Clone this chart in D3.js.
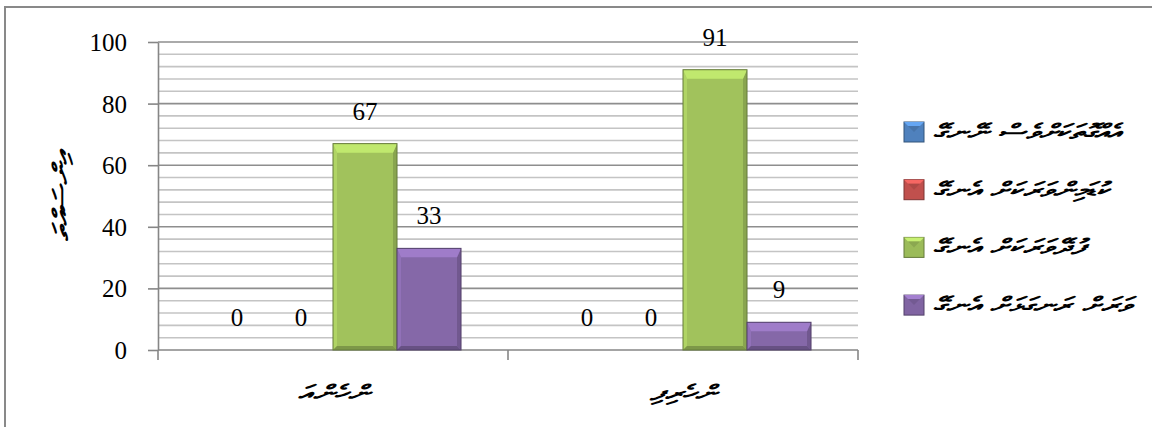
<!DOCTYPE html>
<html>
<head>
<meta charset="utf-8">
<script src="https://cdn.jsdelivr.net/npm/d3@7"></script>
<style>
  body { margin: 0; background: #fff; }
  svg { display: block; }
</style>
</head>
<body>
<div id="chart"></div>
<script>
// data
const groups = ["އަންހެން", "ފިރިހެން"];
const seriesNames = [
  "އެއްގޮތަކަށްވެސް ނޭނގޭ",
  "ކުޑަމިންވަރަކަށް އެނގޭ",
  "ފުދޭވަރަކަށް އެނގޭ",
  "ވަރަށް ރަނގަޅަށް އެނގޭ"
];
const seriesColors = ["#4f81bd", "#c0504d", "#9bbb59", "#8064a2"];
const knowNothing = [0, 0];
const knowLittle = [0, 0];
const knowEnough = [67, 91];
const knowWell = [33, 9];
const yTicks = [0, 20, 40, 60, 80, 100];
const yTitle = "އިންސައްތަ";

const seriesValues = [knowNothing, knowLittle, knowEnough, knowWell];

const W = 1152, H = 427;
const thaana = "'MV Boli', Faruma, 'DejaVu Sans', 'Noto Sans', sans-serif";
const serif = "'Liberation Serif', 'Times New Roman', serif";

const svg = d3.select("#chart").append("svg")
  .attr("width", W)
  .attr("height", H);

// outer chart border
svg.append("rect")
  .attr("x", 5).attr("y", 7)
  .attr("width", W + 20).attr("height", H + 20)
  .attr("fill", "#fff")
  .attr("stroke", "#898989")
  .attr("stroke-width", 2);

const x0 = d3.scaleBand()
  .domain(groups)
  .range([158, 858]);

const x1 = d3.scaleBand()
  .domain(d3.range(seriesNames.length))
  .range([0, x0.bandwidth()])
  .paddingOuter(0.734);

const y = d3.scaleLinear()
  .domain([0, 100])
  .range([350, 42]);

// minor grid every 4, major grid every 20
const minor = d3.range(0, 101, 4).filter(v => v % 20 !== 0);
svg.append("g")
  .selectAll("line")
  .data(minor)
  .join("line")
    .attr("x1", 158).attr("x2", 858)
    .attr("y1", d => y(d)).attr("y2", d => y(d))
    .attr("stroke", "#c4c4c4")
    .attr("stroke-width", 1.6);

svg.append("g")
  .selectAll("line")
  .data(yTicks.filter(v => v > 0))
  .join("line")
    .attr("x1", 158).attr("x2", 858)
    .attr("y1", d => y(d)).attr("y2", d => y(d))
    .attr("stroke", "#8e8e8e")
    .attr("stroke-width", 1.6);

// y axis
const yAxis = svg.append("g")
  .attr("transform", "translate(158,0)")
  .call(d3.axisLeft(y).tickValues(yTicks).tickSize(10).tickPadding(21).tickSizeOuter(0));
yAxis.select(".domain").attr("stroke", "#868686").attr("stroke-width", 1.6);
yAxis.selectAll(".tick line").attr("stroke", "#868686").attr("stroke-width", 1.6);
yAxis.selectAll(".tick text")
  .attr("font-family", serif)
  .attr("font-size", 25)
  .attr("fill", "#000")
  .attr("dy", "0.34em");

// x axis line with boundary ticks
const xAxis = svg.append("g");
xAxis.append("line")
  .attr("x1", x0.range()[0]).attr("x2", x0.range()[1])
  .attr("y1", y(0)).attr("y2", y(0))
  .attr("stroke", "#868686").attr("stroke-width", 1.6);
const bounds = groups.map(g => x0(g)).concat([x0.range()[1]]);
xAxis.selectAll("line.tk")
  .data(bounds)
  .join("line")
    .attr("class", "tk")
    .attr("x1", d => d).attr("x2", d => d)
    .attr("y1", y(0)).attr("y2", y(0) + 10)
    .attr("stroke", "#868686").attr("stroke-width", 1.6);

// the category labels in the reference are laid out left-to-right
const xLabels = xAxis.selectAll("text")
  .data(groups)
  .join("text")
    .attr("x", d => x0(d) + x0.bandwidth() / 2)
    .attr("y", 400)
    .attr("text-anchor", "middle")
    .attr("font-family", thaana)
    .attr("font-style", "italic")
    .attr("font-weight", "bold")
    .attr("font-size", 21)
    .text(d => "\u202D" + d + "\u202C");

// bars with a bevel look
const bars = [];
groups.forEach((g, i) => {
  seriesValues.forEach((vals, j) => {
    bars.push({ group: g, s: j, value: vals[i] });
  });
});

const barG = svg.append("g");
bars.filter(d => d.value > 0).forEach(d => {
  const bx = x0(d.group) + x1(d.s);
  const bw = x1.bandwidth();
  const by = y(d.value);
  const bh = y(0) - by;
  const c = d3.color(seriesColors[d.s]);
  const b = Math.min(9, bh / 2);
  const s = 4;
  const g = barG.append("g");
  g.append("rect")
    .attr("x", bx).attr("y", by)
    .attr("width", bw).attr("height", bh)
    .attr("fill", c.brighter(0.1));
  g.append("path")
    .attr("d", `M${bx},${by}L${bx + s},${by + b}L${bx + s},${by + bh - s}L${bx},${by + bh}Z`)
    .attr("fill", c.brighter(0.35));
  g.append("path")
    .attr("d", `M${bx + bw},${by}L${bx + bw - s},${by + b}L${bx + bw - s},${by + bh - s}L${bx + bw},${by + bh}Z`)
    .attr("fill", c.darker(0.35));
  g.append("path")
    .attr("d", `M${bx},${by + bh}L${bx + s},${by + bh - s}L${bx + bw - s},${by + bh - s}L${bx + bw},${by + bh}Z`)
    .attr("fill", c.darker(0.6));
  g.append("path")
    .attr("d", `M${bx},${by}L${bx + bw},${by}L${bx + bw - s},${by + b}L${bx + s},${by + b}Z`)
    .attr("fill", c.brighter(0.6));
  g.append("rect")
    .attr("x", bx).attr("y", by)
    .attr("width", bw).attr("height", bh)
    .attr("fill", "none")
    .attr("stroke", c.darker(1.2))
    .attr("stroke-width", 1);
});

// value labels
svg.append("g")
  .selectAll("text")
  .data(bars)
  .join("text")
    .attr("x", d => x0(d.group) + x1(d.s) + x1.bandwidth() / 2)
    .attr("y", d => y(d.value) - 24)
    .attr("text-anchor", "middle")
    .attr("font-family", serif)
    .attr("font-size", 25)
    .attr("fill", "#000")
    .text(d => d.value);

// y title
const yTitleText = svg.append("text")
  .attr("transform", `translate(68,${(y(0) + y(100)) / 2}) rotate(-90)`)
  .attr("text-anchor", "middle")
  .attr("font-family", thaana)
  .attr("font-style", "italic")
  .attr("font-weight", "bold")
  .attr("font-size", 21)
  .text(yTitle);

// legend
const legend = svg.append("g")
  .selectAll("g")
  .data(seriesNames)
  .join("g")
    .attr("transform", (d, i) => `translate(904,${132 + i * 57.7})`);

legend.each(function(d, i) {
  const g = d3.select(this);
  const c = d3.color(seriesColors[i]);
  g.append("rect")
    .attr("x", 0).attr("y", -10)
    .attr("width", 20).attr("height", 20)
    .attr("fill", c)
    .attr("stroke", c.darker(1.2))
    .attr("stroke-width", 1);
  g.append("path")
    .attr("d", "M0,-10L20,-10L16,-6L4,-6Z")
    .attr("fill", c.brighter(0.7));
  g.append("path")
    .attr("d", "M4,-6L16,-6L10,0Z")
    .attr("fill", c.darker(0.3));
});

const legendText = legend.append("text")
  .attr("x", 29)
  .attr("y", 7)
  .attr("font-family", thaana)
  .attr("font-style", "italic")
  .attr("font-weight", "bold")
  .attr("font-size", 21)
  .text(d => d);

// the fallback Thaana face is narrower than the original, widen all Thaana text evenly
const firstWidth = legendText.node().getComputedTextLength();
const widen = 189 / firstWidth;
[legendText, xLabels, yTitleText].forEach(sel => {
  sel.each(function() {
    const len = this.getComputedTextLength();
    d3.select(this)
      .attr("textLength", len * widen)
      .attr("lengthAdjust", "spacingAndGlyphs");
  });
});
</script>
</body>
</html>
